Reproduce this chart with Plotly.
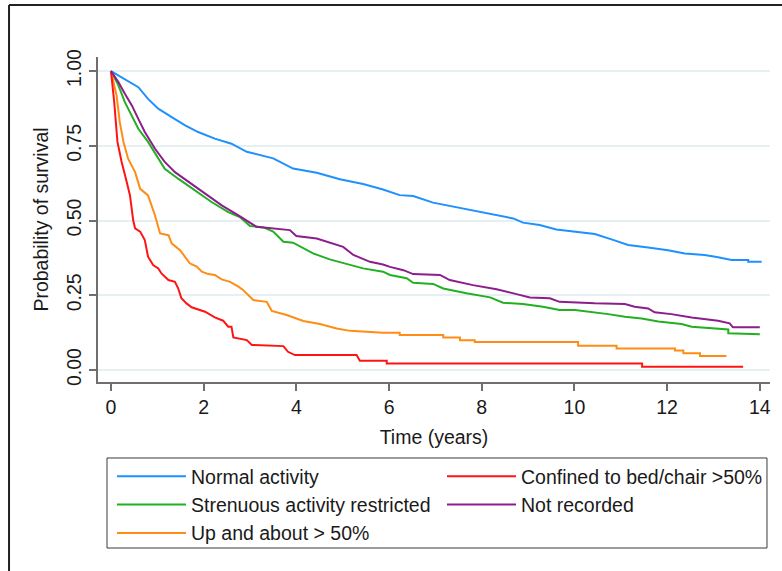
import plotly.graph_objects as go

# ---- data (time in years, survival probability) ----
normal_t = [0, 0.30, 0.59, 0.80, 1.02, 1.31, 1.60, 1.88, 2.24, 2.60, 2.93, 3.50, 3.93, 4.44, 4.94,
            5.44, 5.87, 6.23, 6.52, 6.95, 7.60, 8.18, 8.68, 8.89, 9.25, 9.61, 10.01, 10.44, 10.80,
            11.16, 11.59, 12.02, 12.38, 12.81, 13.10, 13.39, 13.75, 13.75, 14.04]
normal_s = [1.0, .974, .946, .907, .874, .846, .818, .796, .774, .757, .730, .708, .674, .660, .638,
            .622, .604, .585, .582, .560, .541, .524, .507, .493, .485, .470, .463, .455, .437,
            .418, .410, .401, .390, .385, .377, .368, .368, .362, .362]

strenuous_t = [0, .16, .30, .45, .59, .80, 1.02, 1.16, 1.45, 1.81, 2.17, 2.53, 2.78, 3.0, 3.29, 3.5,
               3.72, 3.93, 4.36, 4.72, 5.08, 5.44, 5.87, 6.02, 6.38, 6.52, 6.95, 7.17, 7.67, 8.18,
               8.46, 8.89, 9.32, 9.68, 10.01, 10.44, 10.73, 11.09, 11.45, 11.81, 12.31, 12.53,
               12.88, 13.17, 13.32, 13.32, 14.0]
strenuous_s = [1.0, .952, .896, .852, .807, .763, .707, .673, .640, .601, .562, .528, .512, .482, .477,
               .463, .429, .426, .390, .370, .355, .340, .329, .318, .307, .292, .288, .273, .257,
               .243, .225, .221, .212, .201, .201, .194, .187, .178, .172, .162, .154, .145, .141,
               .136, .136, .123, .120]

upabout_t = [0, .12, .19, .27, .37, .52, .63, .80, .95, 1.06, 1.24, 1.31, 1.49, 1.60, 1.70, 1.85,
             1.96, 2.10, 2.24, 2.39, 2.57, 2.75, 2.85, 3.07, 3.36, 3.47, 3.79, 4.15, 4.51, 4.87,
             5.16, 5.87, 6.23, 6.23, 7.17, 7.17, 7.53, 7.53, 7.85, 7.85, 10.08, 10.08, 10.91,
             10.91, 12.17, 12.17, 12.35, 12.35, 12.71, 12.71, 13.28]
upabout_s = [1.0, .919, .829, .763, .707, .662, .606, .584, .517, .457, .451, .424, .401, .379, .357,
             .346, .329, .321, .318, .303, .295, .279, .268, .234, .228, .198, .184, .164, .154, .139,
             .131, .125, .125, .117, .117, .109, .109, .100, .100, .094, .094, .081, .081,
             .072, .072, .065, .065, .056, .056, .047, .047]

confined_t = [0, .07, .14, .23, .34, .41, .48, .52, .63, .73, .80, .91, 1.02, 1.09, 1.24, 1.38, 1.45,
              1.52, 1.63, 1.74, 2.03, 2.24, 2.42, 2.53, 2.60, 2.64, 2.93, 3.04, 3.72, 3.82, 3.97,
              5.30, 5.37, 5.95, 5.95, 11.46, 11.46, 13.64]
confined_s = [1.0, .896, .763, .696, .629, .584, .500, .474, .463, .435, .379, .351, .340, .323, .301,
              .295, .273, .240, .223, .210, .195, .176, .165, .145, .145, .109, .100, .084, .080,
              .061, .050, .050, .031, .031, .022, .022, .011, .011]

notrec_t = [0, .16, .30, .45, .59, .73, .95, 1.16, 1.38, 1.74, 2.03, 2.39, 2.75, 3.14, 3.86, 4.0,
            4.44, 4.72, 5.01, 5.23, 5.59, 5.87, 6.02, 6.31, 6.52, 7.10, 7.31, 7.81, 8.32, 8.75,
            9.04, 9.47, 9.68, 10.44, 11.09, 11.30, 11.59, 11.73, 12.09, 12.53, 13.10, 13.35,
            13.42, 14.0]
notrec_s = [1.0, .963, .924, .885, .840, .796, .740, .696, .662, .623, .590, .551, .517, .479, .468,
            .448, .440, .426, .412, .385, .362, .353, .345, .334, .321, .318, .301, .284, .270,
            .254, .243, .240, .228, .223, .221, .212, .206, .193, .187, .176, .165, .156, .143, .143]

x_ticks = [0, 2, 4, 6, 8, 10, 12, 14]
y_ticks = [0, 0.25, 0.5, 0.75, 1.0]
y_tick_labels = ["0.00", "0.25", "0.50", "0.75", "1.00"]

FONT = "Liberation Sans, Arial, sans-serif"
AXIS_GREY = "#6f6f6f"
TEXT = "#1a1a1a"

# name, times, survival, colour, legend column
series = [
    ("Normal activity", normal_t, normal_s, "rgb(30,144,255)", "legend"),
    ("Strenuous activity restricted", strenuous_t, strenuous_s, "rgb(34,175,34)", "legend"),
    ("Up and about > 50%", upabout_t, upabout_s, "rgb(255,140,20)", "legend"),
    ("Confined to bed/chair >50%", confined_t, confined_s, "rgb(255,20,20)", "legend2"),
    ("Not recorded", notrec_t, notrec_s, "rgb(140,30,140)", "legend2"),
]

fig = go.Figure()
for name, t, s, col, leg in series:
    fig.add_trace(go.Scatter(x=t, y=s, mode="lines", name=name,
                             line=dict(color=col, width=2), legend=leg))

legend_common = dict(
    orientation="v", yanchor="top", xanchor="left", y=-0.2308,
    bgcolor="rgba(0,0,0,0)", borderwidth=0,
    font=dict(family=FONT, size=19.5, color=TEXT),
    itemwidth=69, tracegroupgap=0, traceorder="normal",
)

fig.update_layout(
    width=782, height=571,
    margin=dict(l=98, r=12, t=57, b=189),
    paper_bgcolor="white", plot_bgcolor="white",
    font=dict(family=FONT, size=19.5, color=TEXT),
    showlegend=True,
    legend=dict(x=0.0208, **legend_common),
    legend2=dict(x=0.5119, **legend_common),
)

fig.update_xaxes(
    range=[-0.28, 14.22], tickvals=x_ticks, ticks="outside", ticklen=7, tickwidth=1.5,
    tickcolor=AXIS_GREY, showline=True, linecolor=AXIS_GREY, linewidth=1.5,
    showgrid=False, zeroline=False,
    title=dict(text="Time (years)", standoff=13, font=dict(size=19.5)),
)
fig.update_yaxes(
    range=[-0.040, 1.047], tickvals=y_ticks, ticktext=y_tick_labels, tickangle=-90,
    ticks="outside", ticklen=7, tickwidth=1.5, tickcolor=AXIS_GREY,
    showline=True, linecolor=AXIS_GREY, linewidth=1.5,
    showgrid=True, gridcolor="#e6eff1", gridwidth=1.5, zeroline=False,
    title=dict(text="Probability of survival", standoff=10, font=dict(size=19.5)),
)

# legend frame
fig.add_shape(type="rect", xref="paper", yref="paper", x0=0.0134, x1=0.9955, y0=-0.5108, y1=-0.2338,
              line=dict(color="#3a3a3a", width=1), fillcolor="rgba(0,0,0,0)", layer="below")
# outer frame of the original figure (top and left edges)
fig.add_shape(type="line", xref="paper", yref="paper", x0=-0.1324, x1=1.05, y0=1.16, y1=1.16,
              line=dict(color="#222222", width=2))
fig.add_shape(type="line", xref="paper", yref="paper", x0=-0.1324, x1=-0.1324, y0=-0.62, y1=1.16,
              line=dict(color="#222222", width=2))

fig.write_html("out.html")
